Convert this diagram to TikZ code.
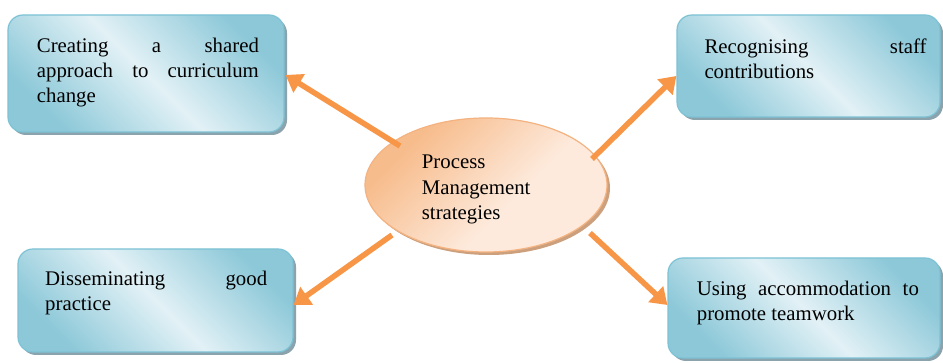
\documentclass[tikz,border=0pt]{standalone}
\usepackage{fontspec}
\setmainfont{Liberation Serif}
\usetikzlibrary{shapes.geometric,arrows.meta,shadows}
\definecolor{bdark}{RGB}{140,200,216}
\definecolor{blight}{RGB}{226,241,246}
\definecolor{bborder}{RGB}{125,194,213}
\definecolor{bshadow}{RGB}{138,163,173}
\definecolor{odark}{RGB}{247,188,140}
\definecolor{olight}{RGB}{253,234,220}
\definecolor{oborder}{RGB}{244,178,128}
\definecolor{oshadow}{RGB}{205,160,125}
\definecolor{arrowc}{RGB}{247,150,70}
\pgfdeclarehorizontalshading{boxshade}{100bp}{color(0bp)=(bdark); color(25bp)=(bdark); color(50bp)=(blight); color(75bp)=(bdark); color(100bp)=(bdark)}
\pgfdeclarehorizontalshading{ovalshade}{100bp}{color(0bp)=(odark); color(28bp)=(odark); color(58bp)=(olight); color(80bp)=(olight); color(100bp)=(olight)}
\newcommand\txtfont{\fontsize{20.8}{25.3}\selectfont\hyphenpenalty=10000\exhyphenpenalty=10000\tolerance=10000}
\tikzset{
  infobox/.style={draw=bborder, line width=1.2pt, rounded corners=15pt, shading=boxshade, shading angle=45, inner sep=0pt,
    drop shadow={shadow xshift=3pt, shadow yshift=-3pt, fill=bshadow, opacity=1}},
  centeroval/.style={ellipse, draw=oborder, line width=1.2pt, shading=ovalshade, shading angle=-45, inner sep=0pt,
    minimum width=242pt, minimum height=134pt,
    drop shadow={shadow xshift=3pt, shadow yshift=-3pt, fill=oshadow, opacity=1}},
  boxtext/.style={anchor=base west, inner sep=0pt, text width=222pt, align=justify, font=\txtfont},
  arr/.style={draw=arrowc, line width=5.5pt, -{Triangle[length=16pt,width=21pt]}, color=arrowc}
}
\begin{document}
\begin{tikzpicture}[x=1pt,y=1pt]
\fill[white] (0,0) rectangle (943,363);
\useasboundingbox (0,0) rectangle (943,363);
% boxes
\node[infobox, minimum width=276pt, minimum height=117pt] (b1) at (146,289.5) {};
\node[infobox, minimum width=263pt, minimum height=102pt] (b2) at (808.5,297) {};
\node[infobox, minimum width=275pt, minimum height=103pt] (b3) at (155.5,62.5) {};
\node[infobox, minimum width=272pt, minimum height=100pt] (b4) at (804,55) {};
\node[centeroval] (c) at (486,178) {};
% texts
\node[boxtext] (t1) at (36.7,310.7) {Creating a shared\linebreak approach to curriculum\linebreak change};
\node[boxtext] (t2) at (704.3,309.7) {Recognising staff\linebreak contributions};
\node[boxtext] (t3) at (45,77.3) {Disseminating good\linebreak practice};
\node[boxtext] (t4) at (696.7,67.3) {Using accommodation to\linebreak promote teamwork};
\node[boxtext, text width=140pt, align=left] (tc) at (421.7,194) {Process\\Management\\strategies};
% connectors
\draw[arr] ([shift={(-86pt,39pt)}]c.center) -- ([shift={(1pt,-1.5pt)}]b1.east);
\draw[arr] ([shift={(106pt,26pt)}]c.center) -- ([shift={(0pt,-10pt)}]b2.west);
\draw[arr] ([shift={(-94pt,-50pt)}]c.center) -- ([shift={(0pt,-4.5pt)}]b3.east);
\draw[arr] ([shift={(104pt,-48pt)}]c.center) -- ([shift={(0pt,3pt)}]b4.west);
\end{tikzpicture}
\end{document}
